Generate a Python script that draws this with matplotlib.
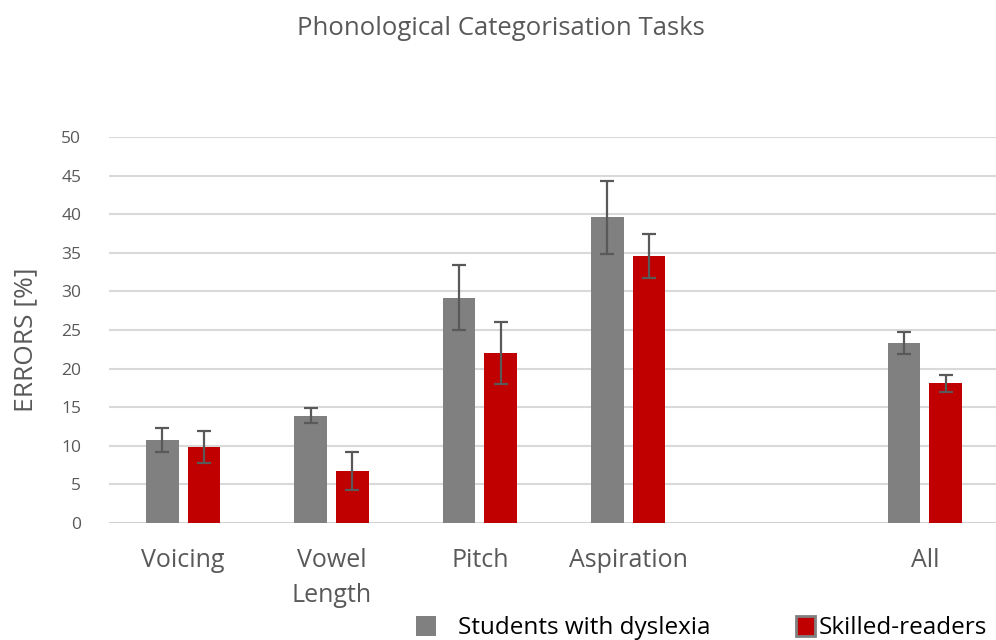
import numpy as np
import matplotlib
matplotlib.use('Agg')
from matplotlib import pyplot as plt

plt.rcParams['font.family'] = ['Open Sans', 'DejaVu Sans']

categories = ['Voicing', 'Vowel\nLength', 'Pitch', 'Aspiration', '', 'All']
dyslexia = [10.75, 13.9, 29.2, 39.6, 0, 23.3]
dyslexia_err = [1.6, 1.0, 4.2, 4.7, 0, 1.45]
skilled = [9.85, 6.75, 22.0, 34.6, 0, 18.1]
skilled_err = [2.05, 2.45, 4.0, 2.85, 0, 1.1]
yticks = [0, 5, 10, 15, 20, 25, 30, 35, 40, 45, 50]

grey_txt = '#595959'
fig = plt.figure(figsize=(9.96, 6.4), dpi=100)
ax = fig.add_axes([0.1094, 0.1828, 0.8936, 0.6032])

x = np.arange(len(categories))
w = 0.22
show = [i for i, c in enumerate(categories) if c]
xs = x[show]
d = np.array(dyslexia)[show]
de = np.array(dyslexia_err)[show]
s = np.array(skilled)[show]
se = np.array(skilled_err)[show]

ax.bar(xs - 0.14, d, w, color='#808080', zorder=2)
ax.bar(xs + 0.14, s, w, color='#C00000', zorder=2)
ax.errorbar(xs - 0.14, d, yerr=de, fmt='none', ecolor=grey_txt, elinewidth=1.6,
            capsize=5, capthick=1.6, zorder=3)
ax.errorbar(xs + 0.14, s, yerr=se, fmt='none', ecolor=grey_txt, elinewidth=1.6,
            capsize=5, capthick=1.6, zorder=3)

ax.set_xlim(-0.5, 5.5)
ax.set_ylim(0, 50)
ax.set_yticks(yticks)
ax.set_xticks(x)
ax.set_xticklabels(categories, fontsize=18, color=grey_txt, linespacing=1.5)
ax.tick_params(axis='y', labelsize=12.5, labelcolor=grey_txt, length=0, pad=20)
ax.tick_params(axis='x', length=0, pad=18)
ax.yaxis.grid(True, color='#d9d9d9', linewidth=1.5, zorder=0)
ax.set_axisbelow(True)
for sp in ax.spines.values():
    sp.set_visible(False)
ax.axhline(0, color='#d0d0d0', linewidth=1.8, zorder=1)

ax.set_ylabel('ERRORS [%]', fontsize=19, color=grey_txt)
ax.yaxis.set_label_coords(-0.08, 0.475)
fig.text(0.503, 0.956, 'Phonological Categorisation Tasks', ha='center', va='center',
         fontsize=18.5, color=grey_txt)

h1 = plt.Rectangle((0, 0), 1, 1, facecolor='#808080', edgecolor='none')
h2 = plt.Rectangle((0, 0), 1, 1, facecolor='#C00000', edgecolor='#808080', linewidth=2)
leg1 = fig.legend([h1], ['Students with dyslexia'], loc='lower left',
                  bbox_to_anchor=(0.418, 0.0), frameon=False, fontsize=17.5,
                  handlelength=0.8, handleheight=0.9, handletextpad=0.9,
                  borderpad=0, borderaxespad=0)
leg2 = fig.legend([h2], ['Skilled-readers'], loc='lower left',
                  bbox_to_anchor=(0.799, 0.0), frameon=False, fontsize=17.5,
                  handlelength=0.8, handleheight=0.9, handletextpad=0.15,
                  borderpad=0, borderaxespad=0)

plt.savefig('out.png', format='png')
